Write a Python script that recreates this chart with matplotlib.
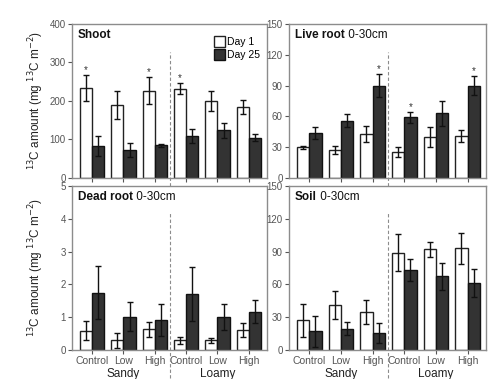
import numpy as np
import matplotlib
matplotlib.use('Agg')
import matplotlib.pyplot as plt
from matplotlib.patches import Patch

plt.rcParams['font.family'] = ['Liberation Sans', 'DejaVu Sans']

# 처리구와 토양
treatments = ['Control', 'Low', 'High', 'Control', 'Low', 'High']
soils = ['Sandy', 'Loamy']

# 패널별 값 (Day 1, Day 25) 과 표준오차
shoot_d1 = [234, 189, 227, 232, 199, 184]
shoot_d1_err = [34, 36, 35, 14, 26, 18]
shoot_d25 = [83, 73, 85, 109, 124, 105]
shoot_d25_err = [26, 19, 4, 19, 20, 10]
shoot_star_d1 = [True, False, True, True, False, False]
shoot_star_d25 = [False] * 6

live_d1 = [30, 27, 43, 25, 40, 41]
live_d1_err = [1.5, 4, 8, 5, 10, 6]
live_d25 = [44, 56, 90, 59, 63, 90]
live_d25_err = [6, 6, 11, 5, 12, 9]
live_star_d1 = [False] * 6
live_star_d25 = [False, False, True, True, False, True]

dead_d1 = [0.59, 0.29, 0.63, 0.29, 0.29, 0.61]
dead_d1_err = [0.3, 0.23, 0.22, 0.11, 0.08, 0.22]
dead_d25 = [1.75, 1.02, 0.92, 1.70, 1.01, 1.17]
dead_d25_err = [0.82, 0.45, 0.48, 0.82, 0.40, 0.35]

soil_d1 = [27, 41, 35, 89, 92, 93]
soil_d1_err = [15, 13, 11, 17, 6.5, 14]
soil_d25 = [17, 19.5, 15.5, 73.5, 67.5, 61.5]
soil_d25_err = [14, 6, 9, 10, 12.5, 13]

no_star = [False] * 6

panels = [
    ('Shoot', '', shoot_d1, shoot_d1_err, shoot_d25, shoot_d25_err,
     shoot_star_d1, shoot_star_d25, 400, np.arange(0, 401, 100)),
    ('Live root', ' 0-30cm', live_d1, live_d1_err, live_d25, live_d25_err,
     live_star_d1, live_star_d25, 150, np.arange(0, 151, 30)),
    ('Dead root', ' 0-30cm', dead_d1, dead_d1_err, dead_d25, dead_d25_err,
     no_star, no_star, 5, np.arange(0, 6, 1)),
    ('Soil', ' 0-30cm', soil_d1, soil_d1_err, soil_d25, soil_d25_err,
     no_star, no_star, 150, np.arange(0, 151, 30)),
]

fig = plt.figure(figsize=(4.92, 3.79), dpi=100)
W, H = 492, 379
boxes = [(72, 24, 195, 154), (289, 24, 197, 154),
         (72, 186, 195, 164), (289, 186, 197, 164)]

grey = '#8c8c8c'
x = np.arange(6)
bw = 0.39

for i, (title, sub, d1, e1, d25, e25, s1, s25, ymax, yticks) in enumerate(panels):
    l, t, w, h = boxes[i]
    ax = fig.add_axes([l / W, 1 - (t + h) / H, w / W, h / H])
    ax.bar(x - bw / 2, d1, bw, color='white', edgecolor='#222222', linewidth=1)
    ax.bar(x + bw / 2, d25, bw, color='#333333', edgecolor='#111111', linewidth=1)
    ax.errorbar(x - bw / 2, d1, yerr=e1, fmt='none', ecolor='#111111',
                elinewidth=1, capsize=2, capthick=1)
    ax.errorbar(x + bw / 2, d25, yerr=e25, fmt='none', ecolor='#111111',
                elinewidth=1, capsize=2, capthick=1)

    # 유의성 표시
    for j in range(6):
        if s1[j]:
            ax.annotate('*', (x[j] - bw / 2, d1[j] + e1[j]), xytext=(0, 0),
                        textcoords='offset points', ha='center', va='bottom',
                        fontsize=7, color='#333333')
        if s25[j]:
            ax.annotate('*', (x[j] + bw / 2, d25[j] + e25[j]), xytext=(0, 0),
                        textcoords='offset points', ha='center', va='bottom',
                        fontsize=7, color='#333333')

    ax.set_xlim(-0.64, 5.58)
    ax.set_ylim(0, ymax)
    ax.set_yticks(yticks)
    ax.set_xticks(x)
    for sp in ax.spines.values():
        sp.set_color(grey)
        sp.set_linewidth(1)
    ax.tick_params(direction='out', length=3, width=0.8, color='#555555',
                   labelcolor='#555555', labelsize=7, pad=1.5)

    # 제목 (굵은 글씨 + 보통 글씨)
    t1 = ax.text(0.03, 0.97, title, transform=ax.transAxes, ha='left',
                 va='top', fontsize=8.5, fontweight='bold', color='#111111')
    if sub:
        ax.annotate(sub, xy=(1, 0), xycoords=t1, ha='left', va='bottom',
                    fontsize=8.5, color='#111111')

    # 구분 점선
    if i < 2:
        ax.plot([2.5, 2.5], [-0.052, 0.818], transform=ax.get_xaxis_transform(),
                ls='--', lw=0.8, color=grey, clip_on=False, dashes=(3, 2))
        ax.set_xticklabels([])
    else:
        ax.plot([2.5, 2.5], [-0.17, 0.84], transform=ax.get_xaxis_transform(),
                ls='--', lw=0.8, color=grey, clip_on=False, dashes=(3, 2))
        ax.set_xticklabels(treatments, fontsize=7.5)
        for k, s in enumerate(soils):
            ax.text(1 + 3 * k, -0.108, s, transform=ax.get_xaxis_transform(),
                    ha='center', va='top', fontsize=8.5, color='#222222')

    if i % 2 == 0:
        ax.set_ylabel('$^{13}$C amount (mg $^{13}$C m$^{-2}$)', fontsize=8.5,
                      color='#222222')
        ax.yaxis.set_label_coords(-0.135, 0.5)

    if i == 0:
        handles = [Patch(facecolor='white', edgecolor='#222222', label='Day 1'),
                   Patch(facecolor='#333333', edgecolor='#111111', label='Day 25')]
        ax.legend(handles=handles, loc='upper right', frameon=False, fontsize=7.5,
                  handlelength=1.0, handleheight=1.3, handletextpad=0.2,
                  labelspacing=0.15, borderaxespad=0.3,
                  bbox_to_anchor=(1.0, 0.97))

fig.savefig('out.png', dpi=100)
